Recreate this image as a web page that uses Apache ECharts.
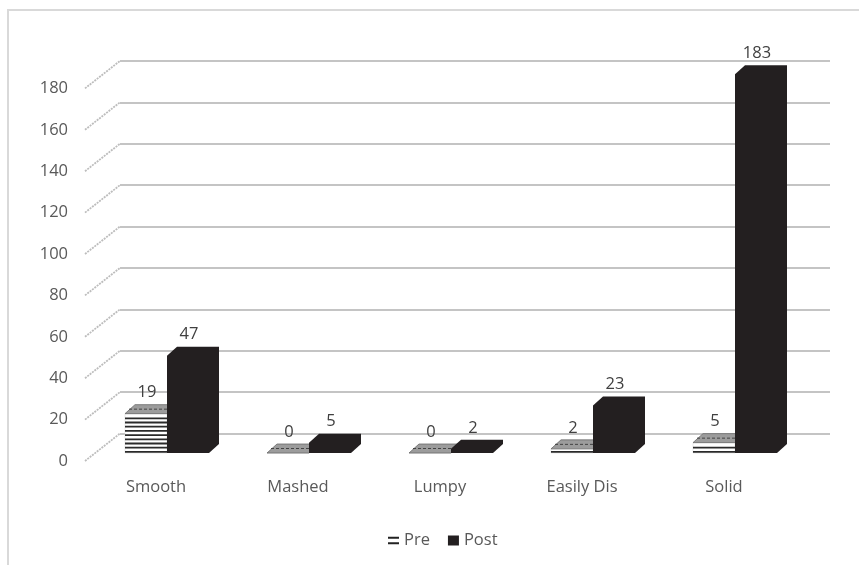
<!DOCTYPE html>
<html>
<head>
<meta charset="utf-8">
<script src="https://cdn.jsdelivr.net/npm/echarts@6/dist/echarts.min.js"></script>
<style>html,body{margin:0;padding:0;background:#fff}#c{width:859px;height:565px}</style>
</head>
<body>
<div id="c"></div>
<script>
const categories = ['Smooth', 'Mashed', 'Lumpy', 'Easily Dis', 'Solid'];
const preValues = [19, 0, 0, 2, 5];
const postValues = [47, 5, 2, 23, 183];
const yTicks = [0, 20, 40, 60, 80, 100, 120, 140, 160, 180];

const FONT = '"Open Sans", "Noto Sans", sans-serif';
const FS = 16.5;
const BW = 42, DX = 10, DY = -9;

function barRender(isPre) {
  return function (params, api) {
    const ci = api.value(0), v = api.value(1);
    const base = api.coord([ci, 0]);
    const top = api.coord([ci, v]);
    const cx = base[0];
    const x0 = isPre ? cx - BW : cx;
    const x1 = x0 + BW;
    const yb = base[1], yt = top[1];
    const children = [];
    if (isPre) {
      children.push({type: 'polygon', shape: {points: [[x1, yb], [x1 + DX, yb + DY], [x1 + DX, yt + DY], [x1, yt]]}, style: {fill: '#777'}});
      children.push({type: 'rect', shape: {x: x0, y: yt, width: BW, height: yb - yt}, style: {fill: '#fff', stroke: '#ddd', lineWidth: 0.6}});
      for (let y = yb - 2; y > yt; y -= 4.2) {
        const h = Math.min(1.8, y - yt);
        children.push({type: 'rect', shape: {x: x0, y: y, width: BW, height: h}, style: {fill: '#2a2a2a'}});
      }
      children.push({type: 'polygon', shape: {points: [[x0, yt], [x1, yt], [x1 + DX, yt + DY], [x0 + DX, yt + DY]]}, style: {fill: '#9c9c9c', stroke: '#6a6a6a', lineWidth: 0.8}});
      children.push({type: 'line', shape: {x1: x0 + 4, y1: yt + DY / 2, x2: x1 + 2, y2: yt + DY / 2}, style: {stroke: '#444', lineWidth: 1, lineDash: [3, 2]}});
    } else {
      children.push({type: 'polygon', shape: {points: [[x0, yb], [x1, yb], [x1 + DX, yb + DY], [x1 + DX, yt + DY], [x0 + DX, yt + DY], [x0, yt]]}, style: {fill: '#231f20'}});
    }
    children.push({type: 'text', style: {text: String(v), x: x0 + BW / 2 + 1, y: yt + DY - 12, align: 'center', verticalAlign: 'middle', font: FS + 'px ' + FONT, fill: '#404040'}});
    return {type: 'group', children: children};
  };
}

function diagRender(params, api) {
  const v = api.value(0);
  const p = api.coord([0, v]);
  const x = params.coordSys.x;
  return {type: 'line', shape: {x1: x, y1: p[1], x2: x + 35, y2: p[1] - 27.5}, style: {stroke: '#bdbdbd', lineWidth: 1.8, lineDash: [2, 1]}};
}

const H = 372.6;
const chart = echarts.init(document.getElementById('c'), null, {renderer: 'canvas'});
chart.setOption({
  backgroundColor: '#fff',
  animation: false,
  graphic: [{type: 'rect', shape: {x: 8, y: 10, width: 900, height: 600}, style: {fill: 'none', stroke: '#d9d9d9', lineWidth: 2}, z: -10}],
  grid: [
    {left: 120, right: 29, top: 60.9, height: H},
    {left: 96, right: 53, top: 80.4, height: H},
    {left: 85, right: 64, top: 88.4, height: H}
  ],
  xAxis: [
    {gridIndex: 0, type: 'category', data: categories, show: false},
    {gridIndex: 1, type: 'category', data: categories, show: false},
    {gridIndex: 2, type: 'category', data: categories, axisLine: {show: false}, axisTick: {show: false},
      axisLabel: {margin: 18, fontSize: FS, color: '#595959', fontFamily: FONT, interval: 0}}
  ],
  yAxis: [
    {gridIndex: 0, type: 'value', min: 0, max: 180, interval: 20, axisLabel: {show: false}, axisLine: {show: false}, axisTick: {show: false},
      splitLine: {show: true, lineStyle: {color: '#c4c4c4', width: 2}}},
    {gridIndex: 1, type: 'value', min: 0, max: 180, interval: 20, show: false, splitLine: {show: false}},
    {gridIndex: 2, type: 'value', min: 0, max: 180, interval: 20, axisLine: {show: false}, axisTick: {show: false}, splitLine: {show: false},
      axisLabel: {margin: 17, fontSize: FS, color: '#595959', fontFamily: FONT}}
  ],
  legend: {
    top: 527, left: 383, itemGap: 18, itemWidth: 11, itemHeight: 10,
    textStyle: {fontSize: FS, color: '#595959', fontFamily: FONT},
    data: [
      {name: 'Pre', icon: 'path://M0,0H12V2H0Z M0,6H12V8H0Z', itemStyle: {color: '#222'}},
      {name: 'Post', icon: 'rect', itemStyle: {color: '#231f20'}}
    ]
  },
  series: [
    {type: 'custom', name: 'diag', xAxisIndex: 2, yAxisIndex: 2, data: yTicks.map(v => [v]), encode: {y: 0}, renderItem: diagRender, silent: true, z: 1},
    {type: 'custom', name: 'Pre', xAxisIndex: 1, yAxisIndex: 1, itemStyle: {color: '#222'},
      data: preValues.map((v, i) => [i, v]), encode: {x: 0, y: 1}, renderItem: barRender(true), z: 3},
    {type: 'custom', name: 'Post', xAxisIndex: 1, yAxisIndex: 1, itemStyle: {color: '#231f20'},
      data: postValues.map((v, i) => [i, v]), encode: {x: 0, y: 1}, renderItem: barRender(false), z: 4}
  ]
});
</script>
</body>
</html>
